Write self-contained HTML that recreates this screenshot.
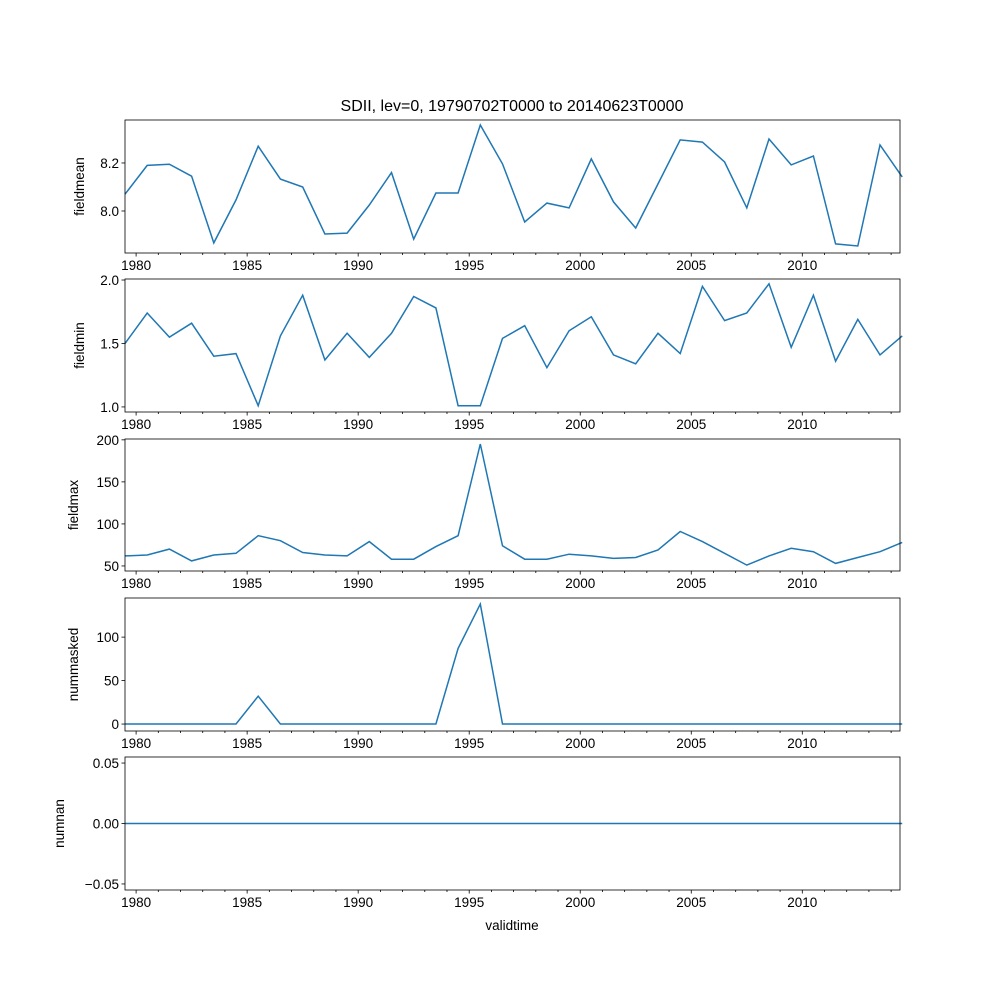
<!DOCTYPE html>
<html><head><meta charset="utf-8"><style>
body{margin:0;background:#fff}
svg text{font-family:"Liberation Sans","DejaVu Sans",sans-serif;font-size:13.5px;fill:#000}
</style></head><body>
<svg id="chart" width="1000" height="1000" viewBox="0 0 1000 1000" xmlns="http://www.w3.org/2000/svg">
<rect width="1000" height="1000" fill="#fff"/>
<text x="512" y="111" text-anchor="middle" style="font-size:16px">SDII, lev=0, 19790702T0000 to 20140623T0000</text>
<text x="512" y="930" text-anchor="middle">validtime</text>
</svg>
<script>
const years = [];
for (let i = 0; i < 36; i++) years.push(1979.5 + i);
const fieldmean = [8.07,8.19,8.195,8.145,7.867,8.046,8.27,8.133,8.10,7.904,7.908,8.025,8.16,7.883,8.075,8.075,8.358,8.196,7.954,8.033,8.013,8.217,8.038,7.929,8.113,8.296,8.287,8.204,8.013,8.30,8.192,8.229,7.863,7.854,8.275,8.142];
const fieldmin = [1.5,1.74,1.55,1.66,1.40,1.42,1.01,1.56,1.88,1.37,1.58,1.39,1.58,1.87,1.78,1.01,1.01,1.54,1.64,1.31,1.60,1.71,1.41,1.34,1.58,1.42,1.95,1.68,1.74,1.97,1.47,1.88,1.36,1.69,1.41,1.56];
const fieldmax = [62,63,70,56,63,65,86,80,66,63,62,79,58,58,73,86,195,74,58,58,64,62,59,60,69,91,79,65,51,62,71,67,53,60,67,78];
const nummasked = [0,0,0,0,0,0,32,0,0,0,0,0,0,0,0,87,138,0,0,0,0,0,0,0,0,0,0,0,0,0,0,0,0,0,0,0];
const numnan = new Array(36).fill(0);
const xTicks = [1980,1985,1990,1995,2000,2005,2010];
const panels = [
 {name:'fieldmean', vals:fieldmean, top:120, bot:253, ymin:7.825, ymax:8.379, ticks:[8.0,8.2], fmt:v=>v.toFixed(1)},
 {name:'fieldmin', vals:fieldmin, top:279, bot:412, ymin:0.96, ymax:2.008, ticks:[1.0,1.5,2.0], fmt:v=>v.toFixed(1)},
 {name:'fieldmax', vals:fieldmax, top:439, bot:571, ymin:44, ymax:201, ticks:[50,100,150,200], fmt:v=>String(v)},
 {name:'nummasked', vals:nummasked, top:598, bot:731, ymin:-8, ymax:145, ticks:[0,50,100], fmt:v=>String(v)},
 {name:'numnan', vals:numnan, top:757, bot:890, ymin:-0.055, ymax:0.055, ticks:[-0.05,0,0.05], fmt:v=>v.toFixed(2).replace('-','\u2212')}
];
const L=125,R=900,X0=1979.5,X1=2014.4;
const sx=v=>L+(v-X0)/(X1-X0)*(R-L);
const svg=document.getElementById('chart');
const NS='http://www.w3.org/2000/svg';
function mk(tag,attrs,parent){const e=document.createElementNS(NS,tag);for(const k in attrs)e.setAttribute(k,attrs[k]);(parent||svg).appendChild(e);return e;}
panels.forEach(p=>{
 const g=mk('g',{});
 
 
 const sy=v=>p.bot-(v-p.ymin)/(p.ymax-p.ymin)*(p.bot-p.top);
 const pts=p.vals.map((v,i)=>sx(years[i]).toFixed(1)+','+sy(v).toFixed(1)).join(' ');
 const line=mk('polyline',{points:pts,fill:'none',stroke:'#1f77b4','stroke-width':1.5},g);
 
 
 const fr=mk('rect',{x:L,y:p.top,width:R-L,height:p.bot-p.top,fill:'none',stroke:'#000','stroke-width':0.8},g);
 
 
 for(let y=1980;y<=2014;y++){
  const x=sx(y);const major=y%5===0;
  mk('line',{x1:x,x2:x,y1:p.bot,y2:p.bot+(major?3.5:2),stroke:'#000','stroke-width':0.8},g);
 }
 xTicks.forEach(t=>{
  const tx=mk('text',{x:sx(t),y:p.bot+17,'text-anchor':'middle'},g);
  
  
  tx.textContent=t;
 });
 p.ticks.forEach(t=>{
  const y=sy(t);
  mk('line',{x1:L-3.5,x2:L,y1:y,y2:y,stroke:'#000','stroke-width':0.8},g);
  const tx=mk('text',{x:L-6,y:y+5,'text-anchor':'end'},g);
  
  
  tx.textContent=p.fmt(t);
 });
 const cy=(p.top+p.bot)/2;
 const yl=mk('text',{x:0,y:0,'text-anchor':'middle',transform:`translate(${p.name==='numnan'?64:p.name==='fieldmean'||p.name==='fieldmin'?84:p.name==='fieldmax'?78:78},${cy}) rotate(-90)`},g);
 
 
 yl.textContent=p.name;
});
</script>
</body></html>
